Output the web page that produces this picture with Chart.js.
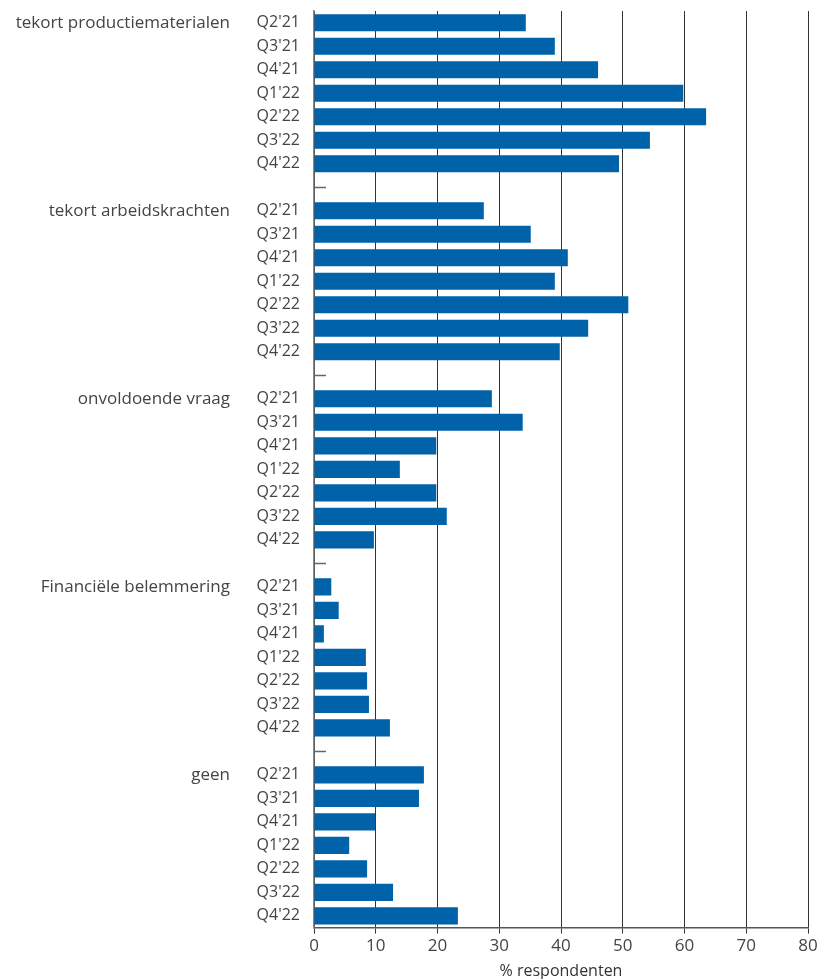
<!DOCTYPE html>
<html>
<head>
<meta charset="utf-8">
<script src="https://cdn.jsdelivr.net/npm/chart.js@4/dist/chart.umd.min.js"></script>
<style>
  html, body { margin: 0; padding: 0; background: #fff; }
  #wrap { width: 822px; height: 979px; }
</style>
</head>
<body>
<div id="wrap"><canvas id="Chart"></canvas></div>
<script>
const groups = ['tekort productiematerialen', 'tekort arbeidskrachten', 'onvoldoende vraag', 'Financiële belemmering', 'geen'];
const quarters = ["Q2'21", "Q3'21", "Q4'21", "Q1'22", "Q2'22", "Q3'22", "Q4'22"];

const productiematerialen = [34.3, 39.0, 46.0, 59.8, 63.5, 54.4, 49.4];
const arbeidskrachten = [27.5, 35.1, 41.1, 39.0, 50.9, 44.4, 39.8];
const vraag = [28.8, 33.8, 19.8, 13.9, 19.8, 21.5, 9.7];
const financieel = [2.8, 4.0, 1.6, 8.4, 8.6, 8.9, 12.3];
const geen = [17.8, 17.0, 9.9, 5.7, 8.6, 12.8, 23.3];

const xTicks = [0, 10, 20, 30, 40, 50, 60, 70, 80];

// build the rows: 7 quarters per group, an empty row between groups
const series = [productiematerialen, arbeidskrachten, vraag, financieel, geen];
const labels = [];
const values = [];
const groupStart = [];
const separators = [];
series.forEach((vals, g) => {
    if (g > 0) {
        separators.push(labels.length);
        labels.push('');
        values.push(null);
    }
    groupStart.push(labels.length);
    quarters.forEach((q, i) => {
        labels.push(q);
        values.push(vals[i]);
    });
});

const FONT = '"Open Sans", sans-serif';

const extras = {
    id: 'extras',
    afterDatasetsDraw(chart) {
        const ctx = chart.ctx;
        const y = chart.scales.y;
        const left = chart.chartArea.left;
        ctx.save();
        // small marks on the axis in the empty rows
        ctx.strokeStyle = '#666';
        ctx.lineWidth = 1.5;
        separators.forEach(idx => {
            const py = Math.round(y.getPixelForValue(idx)) + 0.5;
            ctx.beginPath();
            ctx.moveTo(left, py);
            ctx.lineTo(left + 12, py);
            ctx.stroke();
        });
        // group names
        ctx.fillStyle = '#444';
        ctx.font = '17px ' + FONT;
        ctx.textAlign = 'right';
        ctx.textBaseline = 'middle';
        groupStart.forEach((idx, g) => {
            ctx.fillText(groups[g], 230, y.getPixelForValue(idx));
        });
        ctx.restore();
    }
};

const config = {
    type: 'bar',
    data: {
        labels: labels,
        datasets: [{
            data: values,
            backgroundColor: '#0062a9',
            barPercentage: 0.73,
            categoryPercentage: 1.0,
        }],
    },
    options: {
        indexAxis: 'y',
        responsive: true,
        maintainAspectRatio: false,
        animation: false,
        layout: { padding: { top: 0, right: 14, left: 0, bottom: 0 } },
        plugins: {
            legend: { display: false },
            tooltip: { enabled: false },
        },
        scales: {
            x: {
                min: 0,
                max: 80,
                afterBuildTicks: s => { s.ticks = xTicks.map(v => ({ value: v })); },
                grid: { color: '#333', lineWidth: 1, drawTicks: true, tickLength: 6 },
                border: { color: '#555', width: 1.5 },
                ticks: { color: '#444', font: { size: 17, family: FONT }, padding: 2 },
                title: {
                    display: true,
                    text: '% respondenten',
                    color: '#333',
                    font: { size: 16, family: FONT, lineHeight: 1.0 },
                    padding: { top: 5, bottom: 0 },
                },
            },
            y: {
                afterFit: s => { s.width = 314; s.paddingTop = 11; },
                grid: { display: false },
                border: { color: '#888', width: 1.5 },
                ticks: { color: '#444', font: { size: 16, family: FONT }, padding: 6, autoSkip: false },
            },
        },
    },
    plugins: [extras],
};

const ctx = document.getElementById('Chart').getContext('2d');
const myChart = new Chart(ctx, config);
</script>
</body>
</html>
